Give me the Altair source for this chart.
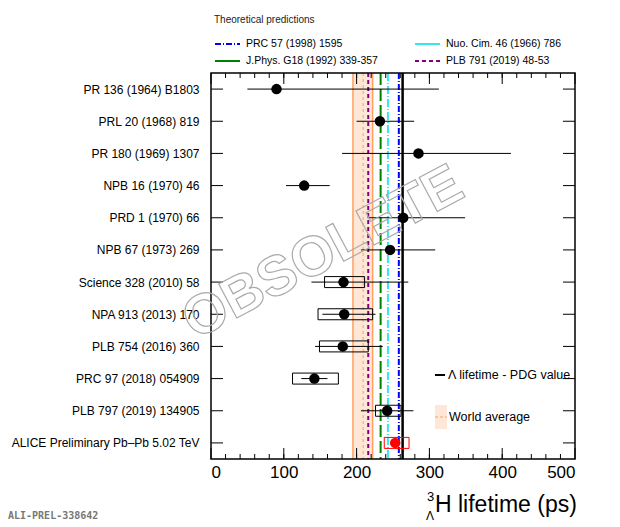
import pandas as pd
import altair as alt

# measurements (ps)
names = ['PR 136 (1964) B1803', 'PRL 20 (1968) 819', 'PR 180 (1969) 1307', 'NPB 16 (1970) 46',
         'PRD 1 (1970) 66', 'NPB 67 (1973) 269', 'Science 328 (2010) 58', 'NPA 913 (2013) 170',
         'PLB 754 (2016) 360', 'PRC 97 (2018) 054909', 'PLB 797 (2019) 134905',
         'ALICE Preliminary Pb\u2013Pb 5.02 TeV']
values = [90, 232, 285, 128, 264, 246, 182, 183, 181, 142, 242, 253]
err_lo = [50, 200, 180, 103, 215, 206, 138, 153, 143, 124, 206, 246]
err_hi = [313, 279, 412, 163, 349, 308, 271, 226, 236, 160, 278, 260]
box_lo = [None, None, None, None, None, None, 156, 147, 149, 112, 226, 238]
box_hi = [None, None, None, None, None, None, 211, 222, 216, 175, 261, 272]
colors = ['black'] * 11 + ['red']

# theory / reference lines
world_avg, world_lo, world_hi = 209, 195, 222
theory_vals = [258, 243, 233, 216]
theory_cols = ['blue', '#33e6f0', 'green', 'purple']
theory_dash = [[6, 2, 1, 2], [8, 2, 1, 2], [12, 4], [4, 3]]
legend_dash = [[6, 2, 1, 2], None, None, [4, 3]]
theory_names = ['PRC 57 (1998) 1595', 'Nuo. Cim. 46 (1966) 786',
                'J.Phys. G18 (1992) 339-357', 'PLB 791 (2019) 48-53']
pdg_val = 263.2

W, H = 364, 386
df = pd.DataFrame({'name': names, 'val': values, 'lo': err_lo, 'hi': err_hi,
                   'blo': box_lo, 'bhi': box_hi, 'col': colors})

xs = alt.Scale(domain=[0, 500], nice=False)
ys = alt.Scale(domain=names, type='point', padding=0.5)
X = alt.X('val:Q', scale=xs, axis=alt.Axis(title=None, values=[0, 100, 200, 300, 400, 500], ticks=False,
                                           labelFontSize=17, labelPadding=5, grid=False, domain=False,
                                           labelFont='Liberation Sans'))
Y = alt.Y('name:N', scale=ys, sort=names, axis=alt.Axis(title=None, ticks=False, domain=False,
                                                         labelFontSize=12, labelPadding=12, labelLimit=400,
                                                         labelFont='Liberation Sans', labelColor='black'))

base = alt.Chart(df)

band = alt.Chart(pd.DataFrame({'a': [world_lo], 'b': [world_hi]})).mark_rect(
    color='#ffb07a', opacity=0.3).encode(x=alt.X('a:Q', scale=xs), x2='b:Q')
band_edges = alt.Chart(pd.DataFrame({'v': [world_lo, world_hi]})).mark_rule(
    color='#ffa060', strokeWidth=1.5).encode(x=alt.X('v:Q', scale=xs))
band_mid = alt.Chart(pd.DataFrame({'v': [world_avg]})).mark_rule(
    color='#ffa060', strokeDash=[3, 3]).encode(x=alt.X('v:Q', scale=xs))

layers = [band, band_edges, band_mid]
for v, c, d in zip(theory_vals, theory_cols, theory_dash):
    layers.append(alt.Chart(pd.DataFrame({'v': [v]})).mark_rule(color=c, strokeDash=d, strokeWidth=2)
                  .encode(x=alt.X('v:Q', scale=xs)))
layers.append(alt.Chart(pd.DataFrame({'v': [pdg_val]})).mark_rule(color='black', strokeWidth=2.5)
              .encode(x=alt.X('v:Q', scale=xs)))

boxes = base.transform_filter('datum.blo != null').mark_bar(size=11, fillOpacity=0, strokeWidth=1).encode(
    x=alt.X('blo:Q', scale=xs), x2='bhi:Q', y=alt.Y('name:N', scale=ys, sort=names),
    stroke=alt.Color('col:N', scale=None))
errs = base.mark_rule(strokeWidth=1).encode(x=alt.X('lo:Q', scale=xs), x2='hi:Q',
                                              y=alt.Y('name:N', scale=ys, sort=names),
                                              color=alt.Color('col:N', scale=None))
pts = base.mark_circle(size=110, opacity=1).encode(x=X, y=Y, color=alt.Color('col:N', scale=None))

# inward ticks
tick_df = pd.DataFrame({'name': names})
lt = alt.Chart(tick_df).mark_rule(color='black').encode(
    y=alt.Y('name:N', scale=ys, sort=names), x=alt.value(0), x2=alt.value(12))
rt = alt.Chart(tick_df).mark_rule(color='black').encode(
    y=alt.Y('name:N', scale=ys, sort=names), x=alt.value(W), x2=alt.value(W - 12))
maj = alt.Chart(pd.DataFrame({'t': [0, 100, 200, 300, 400, 500]}))
minr = alt.Chart(pd.DataFrame({'t': list(range(20, 500, 20))}))
bt = maj.mark_rule(color='black').encode(x=alt.X('t:Q', scale=xs), y=alt.value(H), y2=alt.value(H - 11))
bt2 = minr.mark_rule(color='black').encode(x=alt.X('t:Q', scale=xs), y=alt.value(H), y2=alt.value(H - 5))
tt = maj.mark_rule(color='black').encode(x=alt.X('t:Q', scale=xs), y=alt.value(0), y2=alt.value(11))
tt2 = minr.mark_rule(color='black').encode(x=alt.X('t:Q', scale=xs), y=alt.value(0), y2=alt.value(5))

frame = alt.Chart(pd.DataFrame({'a': [0]})).mark_rect(fill=None, stroke='black', strokeWidth=1.5).encode(
    x=alt.value(0), x2=alt.value(W), y=alt.value(0), y2=alt.value(H))


def txt(s, x, y, size=11, **kw):
    return alt.Chart(pd.DataFrame({'s': [s]})).mark_text(
        align=kw.pop('align', 'left'), baseline='middle', fontSize=size,
        font=kw.pop('font', 'Liberation Sans'), **kw).encode(
        text='s:N', x=alt.value(x), y=alt.value(y))


def seg(x1, x2, y, color, dash=None, width=2):
    kw = {'strokeDash': dash} if dash else {}
    return alt.Chart(pd.DataFrame({'a': [0]})).mark_rule(color=color, strokeWidth=width, **kw).encode(
        x=alt.value(x1), x2=alt.value(x2), y=alt.value(y))


# top legend
leg = [txt('Theoretical predictions', 3, -53, 10, color='#222')]
pos = [(4, -29), (204, -29), (4, -12), (204, -12)]
for (lx, ly), c, d, nm in zip(pos, theory_cols, legend_dash, theory_names):
    leg.append(seg(lx, lx + 25, ly, c, d))
    leg.append(txt(nm, lx + 31, ly, 10.5))

# inner legend
leg.append(seg(224, 234, 302, 'black', width=2))
leg.append(txt('\u039b lifetime - PDG value', 237, 302, 12.5))
leg.append(alt.Chart(pd.DataFrame({'a': [0]})).mark_rect(color='#ffb07a', opacity=0.3).encode(
    x=alt.value(224), x2=alt.value(236), y=alt.value(332), y2=alt.value(356)))
leg.append(seg(224, 236, 344, '#ffa060', [3, 2], 1))
leg.append(txt('World average', 238, 344, 12.5))

# axis title
leg.append(txt('H lifetime (ps)', 224, 432, 23))
leg.append(txt('3', 216, 424, 13))
leg.append(txt('\u039b', 215, 443, 12))

# watermark and label
leg.append(txt('OBSOLETE', 112, 180, 56, align='center', angle=332, fillOpacity=0,
               stroke='#aaa', strokeWidth=1.2, font='Liberation Sans', fontWeight='bold'))
leg.append(txt('ALI-PREL-338642', -203, 443, 10, font='DejaVu Sans Mono', color='#777', fontWeight='bold'))

chart = alt.layer(*layers, boxes, errs, pts, lt, rt, bt, bt2, tt, tt2, frame, *leg).properties(
    width=W, height=H, autosize=alt.AutoSizeParams(type='none'),
    padding={'left': 203, 'top': 65, 'right': 30, 'bottom': 66}
).configure_view(stroke=None)

chart.save("out.html", embed_options={"renderer": "svg", "actions": False})
